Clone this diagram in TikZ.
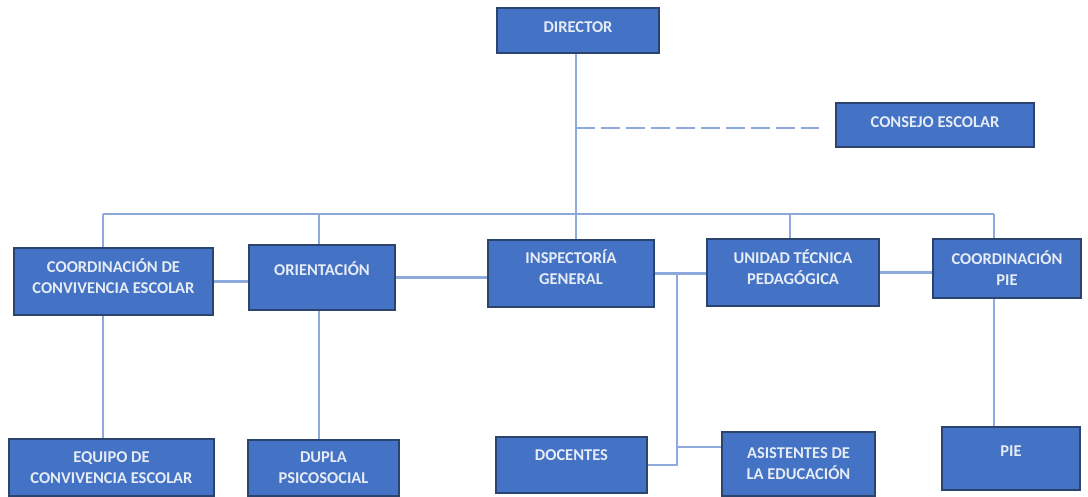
\documentclass[tikz,border=0pt]{standalone}
\usepackage{fontspec}
\setmainfont{Carlito}
\definecolor{boxblue}{HTML}{4472C4}
\definecolor{boxedge}{HTML}{2B436F}
\definecolor{linkblue}{HTML}{8EA9DB}
\definecolor{labelwhite}{HTML}{E6ECF6}
\begin{document}
\begin{tikzpicture}[x=1pt, y=-1pt,
  box/.style={draw=boxedge, line width=1.6pt, fill=boxblue, text=labelwhite,
    align=center, inner sep=0pt, font=\bfseries\fontsize{16.5}{21}\selectfont},
  oneline/.style={text height=11pt, text depth=#1},
  twoline/.style={text height=32pt, text depth=#1},
  link/.style={linkblue, line width=2.2pt}]
\useasboundingbox (0,0) rectangle (1088,496);

% Connector points
\coordinate (trunk) at (576,214);
\coordinate (b1) at (103,214);
\coordinate (b2) at (319,214);
\coordinate (b4) at (790,214);
\coordinate (b5) at (994,214);
\coordinate (tap) at (576,128);
\coordinate (fork) at (677,274);
\coordinate (tee) at (677,447);

% Top
\node[box, oneline=7pt, minimum width=162, minimum height=45] (dir) at (578,30.5) {DIRECTOR};
\node[box, oneline=6pt, minimum width=198, minimum height=44] (cons) at (935,125) {CONSEJO ESCOLAR};

% Middle row
\node[box, twoline=8pt, minimum width=199, minimum height=67] (ccv) at (113.5,281.5) {COORDINACIÓN DE\\CONVIVENCIA ESCOLAR};
\node[box, oneline=16pt, minimum width=146, minimum height=65] (ori) at (322,277.5) {ORIENTACIÓN};
\node[box, twoline=10pt, minimum width=166, minimum height=67] (insp) at (571,273.5) {INSPECTORÍA\\GENERAL};
\node[box, twoline=8pt, minimum width=172, minimum height=67] (utp) at (793,272.5) {UNIDAD TÉCNICA\\PEDAGÓGICA};
\node[box, minimum width=148, minimum height=59] (cpie) at (1007,268.5) {COORDINACIÓN\\PIE};

% Bottom row
\node[box, minimum width=205, minimum height=57] (eq) at (111.5,467.5) {EQUIPO DE\\CONVIVENCIA ESCOLAR};
\node[box, minimum width=151, minimum height=56] (dupla) at (323.5,468) {DUPLA\\PSICOSOCIAL};
\node[box, oneline=20pt, minimum width=151, minimum height=56] (doc) at (571.5,465) {DOCENTES};
\node[box, minimum width=153, minimum height=64] (asis) at (798.5,464) {ASISTENTES DE\\LA EDUCACIÓN};
\node[box, oneline=16pt, minimum width=138, minimum height=63] (pie) at (1011,458.5) {PIE};

% Trunk and bus
\draw[link] (dir.south -| trunk) -- (trunk);
\draw[link, dash pattern=on 19pt off 6pt, shorten >=16pt] (tap) -- (tap -| cons.west);
\draw[link] (b1) -- (b5);
\draw[link] (b1) -- (b1 |- ccv.north);
\draw[link] (b2) -- (b2 |- ori.north);
\draw[link] (trunk) -- (trunk |- insp.north);
\draw[link] (b4) -- (b4 |- utp.north);
\draw[link] (b5) -- (b5 |- cpie.north);

% Side links
\draw[link] (ccv.east) -- (ccv.east -| ori.west);
\draw[link] (ori.east) -- (ori.east -| insp.west);
\draw[link] (insp.east) -- (insp.east -| utp.west);
\draw[link] (utp.east) -- (utp.east -| cpie.west);

% Down links
\draw[link] (ccv.south -| b1) -- (b1 |- eq.north);
\draw[link] (ori.south -| b2) -- (b2 |- dupla.north);
\draw[link] (cpie.south -| b5) -- (b5 |- pie.north);
\draw[link] (fork) |- (doc.east);
\draw[link] (tee) -- (tee -| asis.west);
\end{tikzpicture}
\end{document}
